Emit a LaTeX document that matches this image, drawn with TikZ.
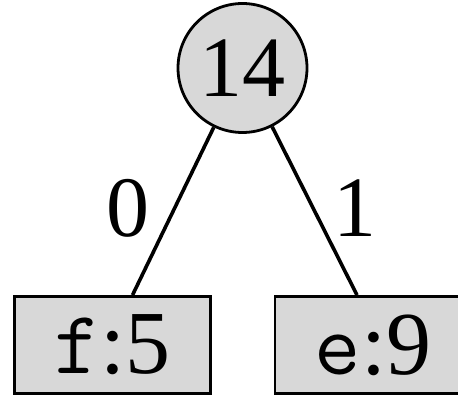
\documentclass[tikz,border=0pt]{standalone}
\usepackage{fontspec}
\setmainfont{Liberation Serif}
\usetikzlibrary{calc}
\definecolor{nodegray}{HTML}{D8D8D8}
\begin{document}
\begin{tikzpicture}[x=1pt,y=1pt,
  big/.style={font=\fontsize{86}{90}\selectfont},
  inner/.style={circle,draw=black,line width=2.8pt,fill=nodegray,minimum size=129pt,inner sep=0pt,big},
  leaf/.style={rectangle,draw=black,line width=2.8pt,fill=nodegray,minimum width=196pt,minimum height=97pt,inner sep=0pt,font=\fontsize{90}{94}\selectfont},
  edge/.style={line width=3.6pt},
  bit/.style={big,inner sep=0pt}]
\useasboundingbox (0,0) rectangle (458,397);
\clip (0,0) rectangle (458,397);
% the root and its two leaves
\node[inner] (c) at (242.5,329) {14};
\node[leaf] (l) at (112.5,52) {\texttt{f}:5};
\node[leaf] (r) at (373,52) {\texttt{e}:9};
% branch end points on the leaf tops
\coordinate (lt) at ($(l.north)+(20,0)$);
\coordinate (rt) at ($(r.north)+(-16,0)$);
\draw[edge] (c) -- (lt);
\draw[edge] (c) -- (rt);
% branch labels
\node[bit] (b0) at (128,189) {0};
\node[bit] (b1) at (355,189) {1};
\end{tikzpicture}
\end{document}
